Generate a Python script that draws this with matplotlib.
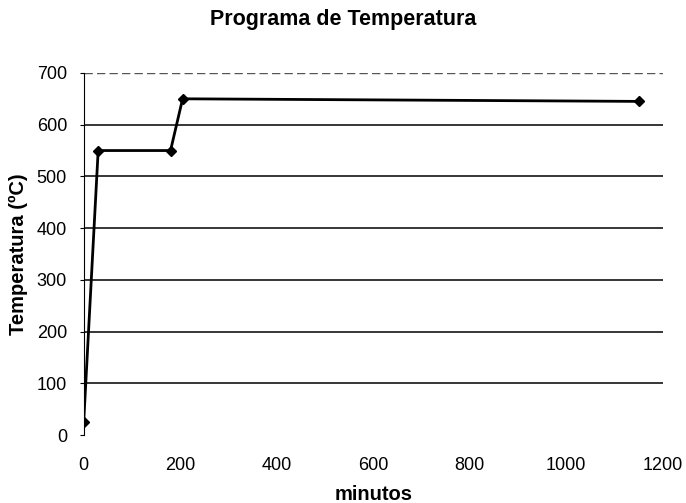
import matplotlib
matplotlib.use("Agg")
import matplotlib.pyplot as plt

plt.rcParams['font.family'] = ['Liberation Sans', 'DejaVu Sans']

minutos = [0, 30, 180, 205, 1150]
temperatura = [25, 550, 550, 650, 645]
xticks = [0, 200, 400, 600, 800, 1000, 1200]
yticks = [0, 100, 200, 300, 400, 500, 600, 700]

fig = plt.figure(figsize=(6.86, 5.03), dpi=100)
ax = fig.add_axes([0.122, 0.135, 0.844, 0.72])

for y in yticks[1:-1]:
    ax.axhline(y, color='black', lw=1.1, zorder=1)
ax.axhline(700, color='#555555', lw=1, ls=(0, (6, 3)), zorder=1)

ax.plot(minutos, temperatura, color='black', lw=2, marker='D', ms=5, zorder=3)

ax.set_xlim(0, 1200)
ax.set_ylim(0, 700)
ax.set_xticks(xticks)
ax.set_yticks(yticks)
ax.tick_params(labelsize=13, length=3, width=0.8)
ax.tick_params(axis='y', pad=9)
ax.tick_params(axis='x', length=0, pad=16)
for s in ['top', 'right', 'bottom']:
    ax.spines[s].set_visible(False)
ax.spines['left'].set_linewidth(0.8)

fig.text(0.5, 1 - 20 / 503, 'Programa de Temperatura', fontsize=15.5,
         fontweight='bold', ha='center', va='center')
ax.set_xlabel('minutos', fontsize=14.5, fontweight='bold', labelpad=8)
ax.set_ylabel('Temperatura (ºC)', fontsize=14.5, fontweight='bold', labelpad=6)

fig.savefig('out.png', dpi=100)
